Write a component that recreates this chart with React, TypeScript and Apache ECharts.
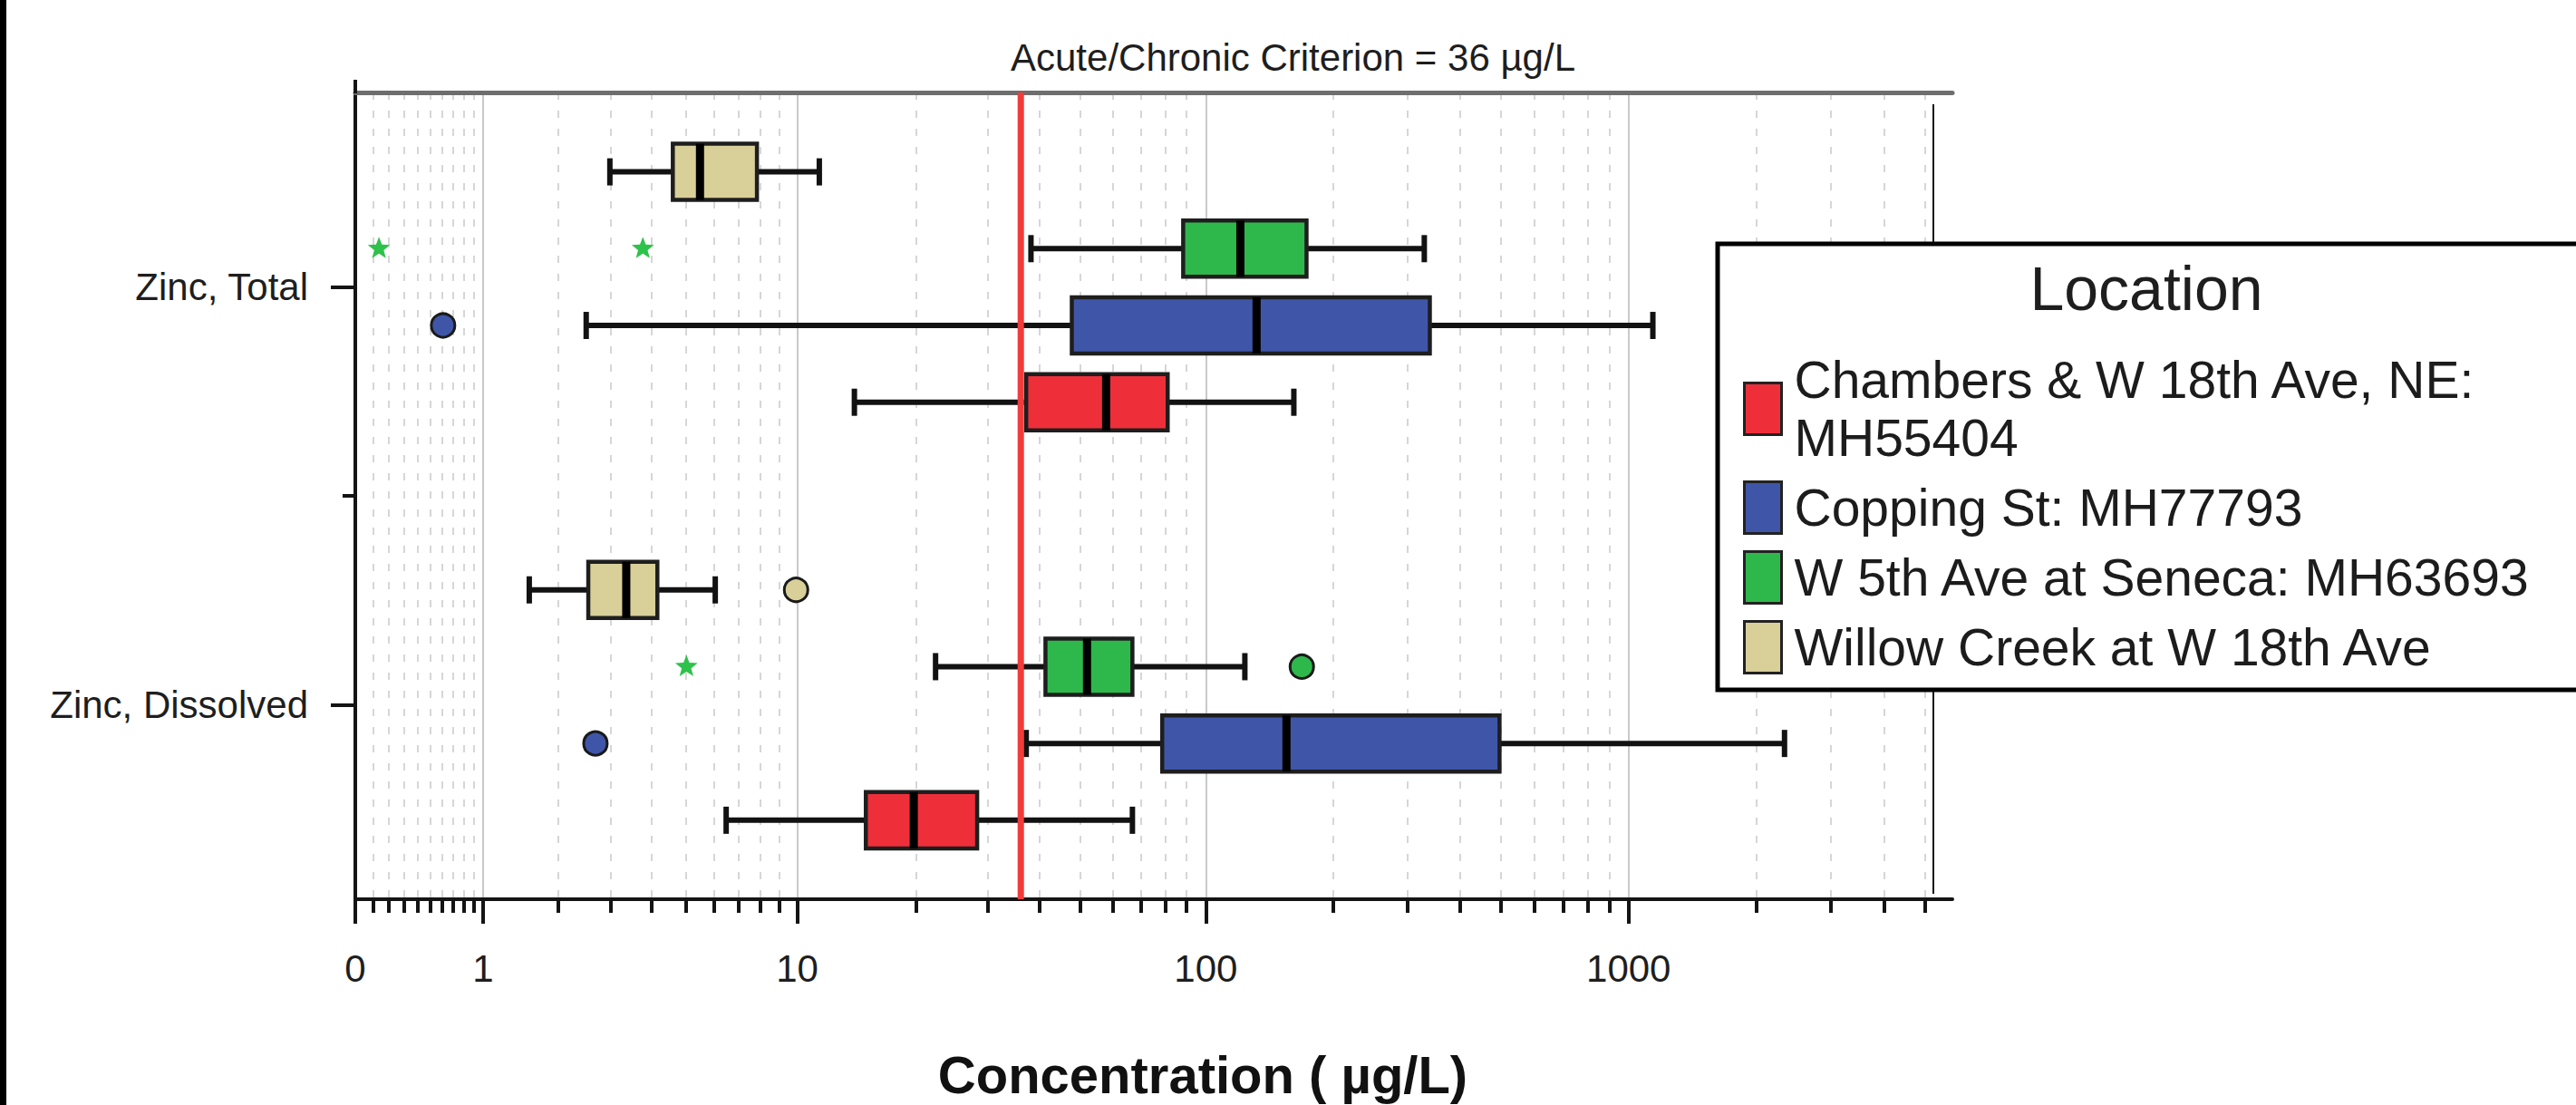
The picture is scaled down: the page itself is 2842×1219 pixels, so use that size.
import React, { useEffect, useRef } from 'react';
import * as echarts from 'echarts';

const FONT = 'Arial, "Liberation Sans", Helvetica, sans-serif';

// y axis: value 0 = Zinc, Dissolved ; value 1 = Zinc, Total
const categories = ['Zinc, Dissolved', 'Zinc, Total'];

const locations = [
  'Chambers & W 18th Ave, NE: MH55404',
  'Copping St: MH77793',
  'W 5th Ave at Seneca: MH63693',
  'Willow Creek at W 18th Ave',
];
const locationColors = ['#ee2f3a', '#3f56a8', '#2eb84b', '#d8cf99'];

// five-number summaries [min, Q1, median, Q3, max] in µg/L, per location
const totalStats = [
  [14.0, 37.1, 57.8, 81.1, 161.8],
  [2.5, 47.8, 132, 339.5, 1141],
  [38.1, 88.3, 120.8, 173.4, 329.4],
  [2.98, 4.6, 5.49, 7.84, 11.4],
];
const dissolvedStats = [
  [6.48, 14.96, 19.7, 28.2, 66.8],
  [37.1, 78.7, 155.4, 496, 2332],
  [22.3, 41.3, 52, 66.8, 123.8],
  [1.57, 2.54, 3.35, 4.15, 6.05],
];

// outliers: [locationIndex, categoryIndex, value µg/L]
const outlierCircles = [
  [1, 1, 0.61],
  [1, 0, 2.68],
  [2, 0, 169],
  [3, 0, 9.93],
];
// extreme values: [locationIndex, categoryIndex, value µg/L]
const extremeStars = [
  [2, 1, 0.137],
  [2, 1, 3.76],
  [2, 0, 5.03],
];

const criterionValue = 36;
const criterionLabel = 'Acute/Chronic Criterion = 36 µg/L';

const majorTicks = [0, 1, 10, 100, 1000];
const minorTicks = [
  0.1, 0.2, 0.3, 0.4, 0.5, 0.6, 0.7, 0.8, 0.9,
  2, 3, 4, 5, 6, 7, 8, 9,
  20, 30, 40, 50, 60, 70, 80, 90,
  200, 300, 400, 500, 600, 700, 800, 900,
  2000, 3000, 4000, 5000,
];
const axisMaxValue = 5800;

// layout constants (in y-axis units, 1 unit = distance between categories)
const Y_MIN = -0.4645;
const Y_MAX = 1.4655;
const SLOT = 0.1837;
const BOX_H = 0.1345;
const CAP_H = 0.065;

// "safe log" transform used by the x axis
const tf = (v: number) => Math.log10(v + 1);
const itf = (t: number) => Math.pow(10, t) - 1;

const yOf = (ci: number, li: number) => ci + (li - 1.5) * SLOT;

function starPoints(cx: number, cy: number, R: number, r: number) {
  const pts: number[][] = [];
  for (let k = 0; k < 10; k++) {
    const a = -Math.PI / 2 + (k * Math.PI) / 5;
    const rad = k % 2 === 0 ? R : r;
    pts.push([cx + rad * Math.cos(a), cy + rad * Math.sin(a)]);
  }
  return pts;
}

export default function App() {
  const ref = useRef<HTMLDivElement>(null);

  useEffect(() => {
    if (!ref.current) return;
    const chart = echarts.init(ref.current, undefined, { renderer: 'svg' });
    const tMax = tf(axisMaxValue);

    const boxSeries = locations.map((name, li) => ({
      type: 'custom',
      name,
      xAxisIndex: 0,
      yAxisIndex: 0,
      z: 3,
      itemStyle: { color: locationColors[li] },
      encode: { x: [1, 2, 3, 4, 5], y: 0 },
      data: [
        [1, ...totalStats[li].map(tf)],
        [0, ...dissolvedStats[li].map(tf)],
      ],
      renderItem: (params: any, api: any) => {
        const yv = yOf(api.value(0), li);
        const p = (d: number) => api.coord([api.value(d), yv]);
        const [xMin, yc] = p(1);
        const xQ1 = p(2)[0];
        const xMed = p(3)[0];
        const xQ3 = p(4)[0];
        const xMax = p(5)[0];
        const hb = api.size([0, BOX_H])[1] / 2;
        const hc = api.size([0, CAP_H])[1] / 2;
        const ws = { stroke: '#121212', lineWidth: 6 };
        return {
          type: 'group',
          children: [
            { type: 'line', shape: { x1: xMin, y1: yc, x2: xQ1, y2: yc }, style: ws },
            { type: 'line', shape: { x1: xQ3, y1: yc, x2: xMax, y2: yc }, style: ws },
            { type: 'line', shape: { x1: xMin, y1: yc - hc, x2: xMin, y2: yc + hc }, style: ws },
            { type: 'line', shape: { x1: xMax, y1: yc - hc, x2: xMax, y2: yc + hc }, style: ws },
            {
              type: 'rect',
              shape: { x: xQ1, y: yc - hb, width: xQ3 - xQ1, height: hb * 2 },
              style: { fill: locationColors[li], stroke: '#1e1e1e', lineWidth: 4.5 },
            },
            {
              type: 'line',
              shape: { x1: xMed, y1: yc - hb, x2: xMed, y2: yc + hb },
              style: { stroke: '#000', lineWidth: 9 },
            },
          ],
        };
      },
    }));

    const option: any = {
      animation: false,
      backgroundColor: '#ffffff',
      textStyle: { fontFamily: FONT },
      grid: {
        left: 392,
        top: 102,
        width: 1762,
        height: 890,
        containLabel: false,
        outerBoundsMode: 'none',
      },
      legend: {
        data: locations.map((name) => ({ name, icon: 'rect' })),
        orient: 'vertical',
        left: 1923,
        top: 387,
        padding: 0,
        itemWidth: 41,
        itemHeight: 57,
        itemGap: 13,
        selectedMode: false,
        z: 20,
        itemStyle: { borderColor: '#222', borderWidth: 3 },
        formatter: (name: string) => name.replace(': MH55404', ':\nMH55404'),
        textStyle: {
          fontFamily: FONT,
          fontSize: 57,
          lineHeight: 64,
          color: '#1c1c1c',
          padding: [0, 0, 0, 9],
        },
      },
      xAxis: [
        {
          type: 'value',
          position: 'bottom',
          min: 0,
          max: tMax,
          name: 'Concentration ( µg/L)',
          nameLocation: 'middle',
          nameGap: 164,
          nameTextStyle: {
            fontFamily: FONT,
            fontSize: 58,
            fontWeight: 'bold',
            color: '#111',
            padding: [0, 0, 0, 108],
          },
          axisLine: { show: true, onZero: false, lineStyle: { color: '#141414', width: 4 } },
          axisTick: {
            show: true,
            customValues: majorTicks.map(tf),
            length: 27,
            lineStyle: { color: '#141414', width: 4 },
          },
          axisLabel: {
            show: true,
            customValues: majorTicks.map(tf),
            formatter: (v: number) => String(Math.round(itf(v))),
            fontFamily: FONT,
            fontSize: 42,
            color: '#1e1e1e',
            margin: 55,
          },
          splitLine: { show: true, lineStyle: { color: '#c9c9c9', width: 2, type: 'solid' } },
        },
        {
          type: 'value',
          position: 'bottom',
          min: 0,
          max: tMax,
          axisLine: { show: false, onZero: false },
          axisTick: {
            show: true,
            customValues: minorTicks.map(tf),
            length: 15,
            lineStyle: { color: '#141414', width: 4 },
          },
          axisLabel: { show: false },
          splitLine: { show: true, lineStyle: { color: '#d6d6d6', width: 2, type: [8, 12] } },
        },
        {
          type: 'value',
          position: 'top',
          min: 0,
          max: tMax,
          axisLine: { show: true, onZero: false, lineStyle: { color: '#6e6e6e', width: 5 } },
          axisTick: { show: false },
          axisLabel: { show: false },
          splitLine: { show: false },
        },
      ],
      yAxis: [
        {
          type: 'value',
          position: 'left',
          min: Y_MIN,
          max: Y_MAX,
          axisLine: { show: true, onZero: false, lineStyle: { color: '#141414', width: 4 } },
          axisTick: {
            show: true,
            customValues: [0, 1],
            length: 27,
            lineStyle: { color: '#141414', width: 4 },
          },
          axisLabel: {
            show: true,
            customValues: [0, 1],
            formatter: (v: number) => categories[Math.round(v)],
            fontFamily: FONT,
            fontSize: 42,
            color: '#1e1e1e',
            margin: 52,
          },
          splitLine: { show: false },
        },
        {
          type: 'value',
          position: 'left',
          min: Y_MIN,
          max: Y_MAX,
          axisLine: { show: false, onZero: false },
          axisTick: {
            show: true,
            customValues: [0.5],
            length: 14,
            lineStyle: { color: '#141414', width: 4 },
          },
          axisLabel: { show: false },
          splitLine: { show: false },
        },
      ],
      graphic: [
        { type: 'rect', shape: { x: 0, y: 0, width: 7, height: 1219 }, style: { fill: '#000' }, z: 1 },
        { type: 'line', shape: { x1: 392, y1: 88, x2: 392, y2: 103 }, style: { stroke: '#141414', lineWidth: 4 }, z: 1 },
        { type: 'line', shape: { x1: 2133, y1: 115, x2: 2133, y2: 986 }, style: { stroke: '#141414', lineWidth: 2 }, z: 1 },
        {
          type: 'text',
          x: 1115,
          y: 63,
          z: 10,
          style: {
            text: criterionLabel,
            fontFamily: FONT,
            fontSize: 42,
            fill: '#1e1e1e',
            align: 'left',
            verticalAlign: 'middle',
          },
        },
        {
          type: 'rect',
          shape: { x: 1895, y: 269, width: 1000, height: 492 },
          style: { fill: '#ffffff', stroke: '#000', lineWidth: 5 },
          z: 10,
        },
        {
          type: 'text',
          x: 2368,
          y: 318,
          z: 11,
          style: {
            text: 'Location',
            fontFamily: FONT,
            fontSize: 68,
            fill: '#1e1e1e',
            align: 'center',
            verticalAlign: 'middle',
          },
        },
      ],
      series: [
        ...boxSeries,
        {
          type: 'custom',
          name: 'Outliers',
          xAxisIndex: 0,
          yAxisIndex: 0,
          z: 4,
          encode: { x: 1, y: 0 },
          data: outlierCircles.map(([li, ci, v]) => [ci, tf(v), li]),
          renderItem: (params: any, api: any) => {
            const li = api.value(2);
            const [cx, cy] = api.coord([api.value(1), yOf(api.value(0), li)]);
            return {
              type: 'circle',
              shape: { cx, cy, r: 13 },
              style: { fill: locationColors[li], stroke: '#1a1a1a', lineWidth: 3 },
            };
          },
        },
        {
          type: 'custom',
          name: 'Extremes',
          xAxisIndex: 0,
          yAxisIndex: 0,
          z: 4,
          encode: { x: 1, y: 0 },
          data: extremeStars.map(([li, ci, v]) => [ci, tf(v), li]),
          renderItem: (params: any, api: any) => {
            const li = api.value(2);
            const [cx, cy] = api.coord([api.value(1), yOf(api.value(0), li)]);
            return {
              type: 'polygon',
              shape: { points: starPoints(cx, cy, 13, 5.5) },
              style: { fill: '#2fc24a' },
            };
          },
        },
        {
          type: 'custom',
          name: 'Criterion',
          xAxisIndex: 0,
          yAxisIndex: 0,
          z: 6,
          encode: { x: 0, y: 1 },
          data: [[tf(criterionValue), 0]],
          renderItem: (params: any, api: any) => {
            const x = api.coord([api.value(0), 0])[0];
            const cs = params.coordSys;
            return {
              type: 'line',
              shape: { x1: x, y1: cs.y, x2: x, y2: cs.y + cs.height },
              style: { stroke: '#f23b3b', lineWidth: 7 },
            };
          },
        },
      ],
    };

    chart.setOption(option);
    return () => chart.dispose();
  }, []);

  return (
    <div
      ref={ref}
      style={{ position: 'absolute', left: 0, top: 0, width: 2842, height: 1219, background: '#fff' }}
    />
  );
}
